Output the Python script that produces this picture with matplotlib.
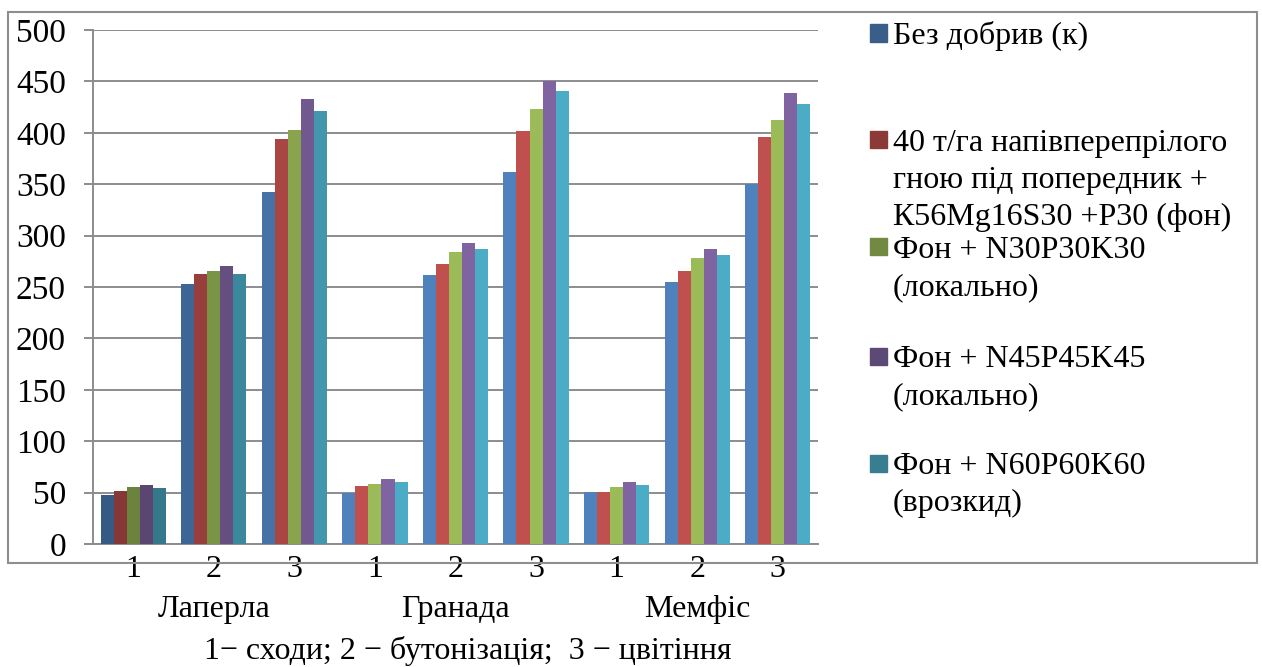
import numpy as np
import matplotlib
matplotlib.use("Agg")
import matplotlib.pyplot as plt
from matplotlib.patches import Rectangle
from matplotlib.colors import to_rgb
import matplotlib.transforms as mtransforms

plt.rcParams['font.family'] = ['Liberation Serif', 'DejaVu Serif']

# фази розвитку по сортах: Лаперла 1-3, Гранада 1-3, Мемфіс 1-3
stages = ['1', '2', '3', '1', '2', '3', '1', '2', '3']
varieties = ['Лаперла', 'Гранада', 'Мемфіс']

bez_dobryv = [48, 253, 342, 50, 262, 362, 51, 255, 350]
gnij_fon = [52, 263, 394, 56, 272, 402, 51, 266, 396]
n30p30k30 = [55, 266, 403, 58, 284, 423, 55, 278, 412]
n45p45k45 = [57, 270, 433, 63, 293, 450, 60, 287, 439]
n60p60k60 = [54, 263, 421, 60, 287, 441, 57, 281, 428]

series = [bez_dobryv, gnij_fon, n30p30k30, n45p45k45, n60p60k60]
labels = ['Без добрив (к)',
          '40 т/га напівперепрілого\nгною під попередник +\nК56Mg16S30 +Р30 (фон)',
          'Фон + N30P30K30\n(локально)',
          'Фон + N45P45K45\n(локально)',
          'Фон + N60P60K60\n(врозкид)']
caption = '1− сходи; 2 − бутонізація;  3 − цвітіння'

base_colors = ['#4F81BD', '#C0504D', '#9BBB59', '#8064A2', '#4BACC6']
# відтінок кожної групи стовпців (Лаперла темніша)
shade = [0.70, 0.79, 0.88, 1, 1, 1, 1, 1, 1]
legend_shade = 0.73
fs = 23


def darker(c, k):
    r, g, b = to_rgb(c)
    return (r * k, g * k, b * k)


W, H = 1262, 667
fig = plt.figure(figsize=(W / 100, H / 100), dpi=100)
ax = fig.add_axes([93 / W, 1 - 544 / H, (818 - 93) / W, (544 - 30) / H])

grid_c = '#8C8C8C'
x = np.arange(len(stages))
w = 0.162
for i, vals in enumerate(series):
    cols = [darker(base_colors[i], s) for s in shade]
    ax.bar(x + (i - 2) * w, vals, width=w, color=cols, linewidth=0, zorder=3)

ax.set_xlim(-0.5, len(stages) - 0.5)
ax.set_ylim(0, 500)
ax.set_yticks(np.arange(0, 501, 50))
ax.yaxis.grid(True, color=grid_c, linewidth=1.4, zorder=0)
ax.set_xticks(x)
ax.set_xticklabels(stages)
for s in ['top', 'right']:
    ax.spines[s].set_visible(False)
for s in ['left', 'bottom']:
    ax.spines[s].set_color(grid_c)
    ax.spines[s].set_linewidth(1.4)
ax.tick_params(axis='y', length=6.5, width=1.4, color=grid_c, pad=13, labelsize=24)
ax.tick_params(axis='x', length=0, pad=8, labelsize=fs)

# назви сортів і підпис під віссю
trans = mtransforms.blended_transform_factory(ax.transData, fig.transFigure)
for k, name in enumerate(varieties):
    ax.text(3 * k + 1, 1 - 610 / H, name, transform=trans, ha='center', va='center',
            fontsize=fs)
fig.text(468 / W, 1 - 651 / H, caption, ha='center', va='center', fontsize=fs)

# рамка діаграми
fig.patches.append(Rectangle((8 / W, 1 - 563 / H), (1257 - 8) / W, (563 - 12) / H,
                             transform=fig.transFigure, fill=False,
                             edgecolor='#8E8E8E', linewidth=1.5))

# легенда
entry_y = [33, 139.5, 246.5, 356, 463]
line_h = 37.5
sq = 17
for i, lab in enumerate(labels):
    yc = entry_y[i]
    fig.patches.append(Rectangle((870 / W, 1 - (yc + sq / 2) / H), sq / W, sq / H,
                                 transform=fig.transFigure,
                                 color=darker(base_colors[i], legend_shade)))
    for j, line in enumerate(lab.split('\n')):
        fig.text(893 / W, 1 - (yc + j * line_h + 11) / H, line,
                 ha='left', va='baseline', fontsize=fs)

fig.savefig('out.png', dpi=100)
